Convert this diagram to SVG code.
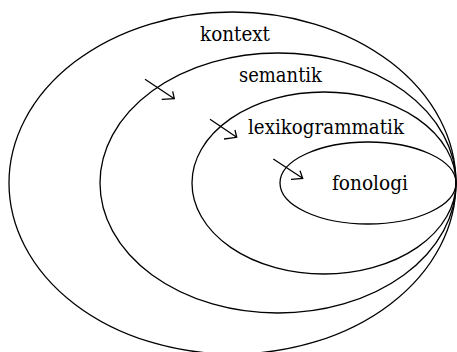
<svg xmlns="http://www.w3.org/2000/svg" width="457" height="352" viewBox="0 0 457 352">
<style>
.ring{fill:none;stroke:#000;stroke-width:1.3}
.arr{fill:none;stroke:#000;stroke-width:1.3;stroke-linejoin:miter}
text{font-family:"DejaVu Serif",serif;font-size:19.5px;fill:#000}
</style>
<rect width="457" height="352" fill="#fff"/>
<g id="kontext">
<ellipse class="ring" cx="232.5" cy="183" rx="223.5" ry="171"/>
<text x="200" y="41" textLength="70" lengthAdjust="spacingAndGlyphs">kontext</text>
</g>
<g id="semantik">
<ellipse class="ring" cx="278" cy="183" rx="178" ry="130"/>
<text x="239" y="82" textLength="83" lengthAdjust="spacingAndGlyphs">semantik</text>
</g>
<g id="lexikogrammatik">
<ellipse class="ring" cx="324" cy="183" rx="132" ry="91"/>
<text x="248" y="134" textLength="156" lengthAdjust="spacingAndGlyphs">lexikogrammatik</text>
</g>
<g id="fonologi">
<ellipse class="ring" cx="368" cy="183" rx="88" ry="41"/>
<text x="332" y="190" textLength="76" lengthAdjust="spacingAndGlyphs">fonologi</text>
</g>
<g id="connectors">
<path class="arr" d="M145,79.3 L174.3,98.7 M172.7,91.3 L174.3,98.7 L161.7,99.3"/>
<path class="arr" d="M210,119.3 L236.7,137.3 M235,130 L236.7,137.3 L224,139"/>
<path class="arr" d="M273.3,159 L302.7,178.3 M300,170.7 L302.7,178.3 L291,179.3"/>
</g>
</svg>
